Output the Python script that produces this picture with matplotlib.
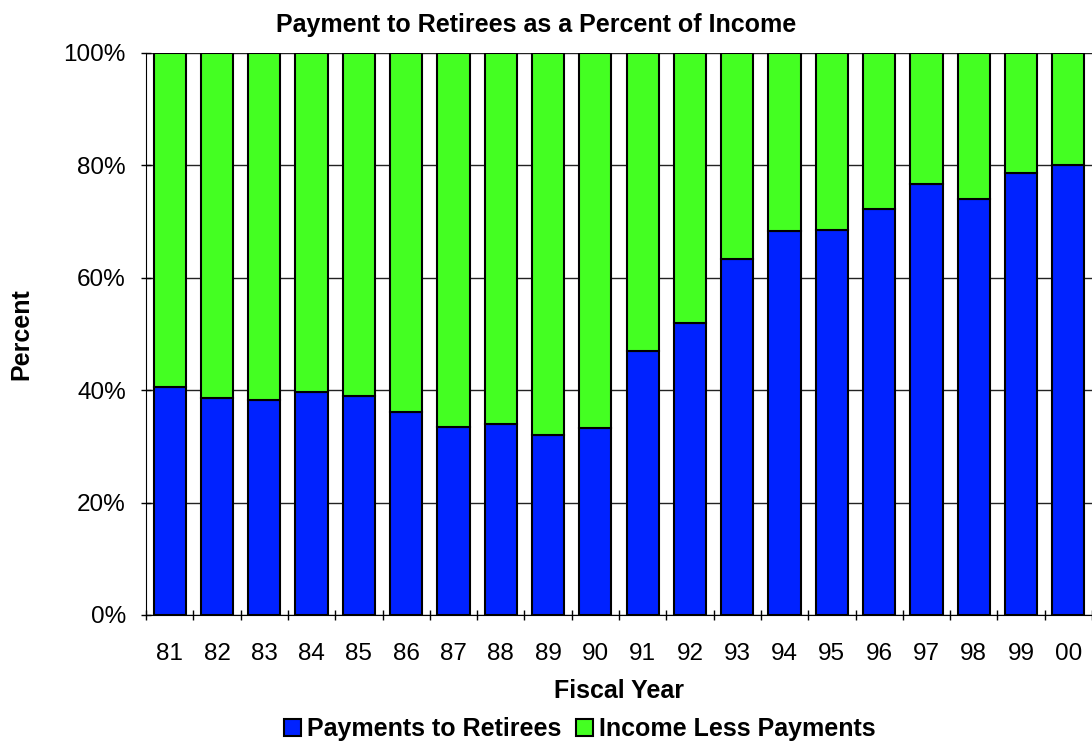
import matplotlib
matplotlib.use("Agg")
import matplotlib.pyplot as plt
import numpy as np

years = ["81", "82", "83", "84", "85", "86", "87", "88", "89", "90",
         "91", "92", "93", "94", "95", "96", "97", "98", "99", "00"]
payments = [40.6, 38.6, 38.3, 39.7, 39.0, 36.2, 33.5, 34.0, 32.0, 33.3,
            46.9, 52.0, 63.3, 68.4, 68.5, 72.2, 76.7, 74.1, 78.6, 80.1]
income_less = [100 - p for p in payments]

plt.rcParams["font.family"] = ["Liberation Sans", "DejaVu Sans"]

fig = plt.figure(figsize=(10.92, 7.44), dpi=100)
ax = fig.add_axes([0.1337, 0.1734, 0.8663, 0.7554])

x = np.arange(len(years))
ax.bar(x, payments, width=0.68, color="#0022ff", edgecolor="black",
       linewidth=1.5, label="Payments to Retirees", zorder=3)
ax.bar(x, income_less, width=0.68, bottom=payments, color="#44ff22",
       edgecolor="black", linewidth=1.5, label="Income Less Payments", zorder=3)

ax.set_xlim(-0.5, len(years) - 0.5)
ax.set_ylim(0, 100)
ax.set_yticks(np.arange(0, 101, 20))
ax.set_yticklabels([f"{v}%" for v in range(0, 101, 20)], fontsize=17.5)
ax.yaxis.grid(True, color="#222222", linewidth=1)
ax.set_axisbelow(True)

ax.set_xticks(x)
ax.set_xticklabels(years, fontsize=17.5)
ax.set_xticks(np.arange(-0.5, len(years)), minor=True)
ax.tick_params(axis="x", which="major", length=0, pad=20.5)
ax.tick_params(axis="x", which="minor", length=7, direction="inout", width=1)
ax.tick_params(axis="y", length=7, direction="inout", width=1, pad=11)

for s in ["top", "right"]:
    ax.spines[s].set_visible(False)

fig.text(0.491, 0.967, "Payment to Retirees as a Percent of Income",
         fontsize=18, fontweight="bold", ha="center", va="center")
ax.set_xlabel("Fiscal Year", fontsize=18, fontweight="bold", labelpad=10)
ax.set_ylabel("Percent", fontsize=18, fontweight="bold")
ax.yaxis.set_label_coords(-0.1195, 0.5)

fig.legend(loc="center", bbox_to_anchor=(0.531, 0.02), ncol=2,
           frameon=False, prop={"weight": "bold", "size": 18},
           handlelength=0.7, handleheight=0.7, handletextpad=0.24,
           columnspacing=0.56, borderpad=0)

fig.savefig("out.png", dpi=100)
